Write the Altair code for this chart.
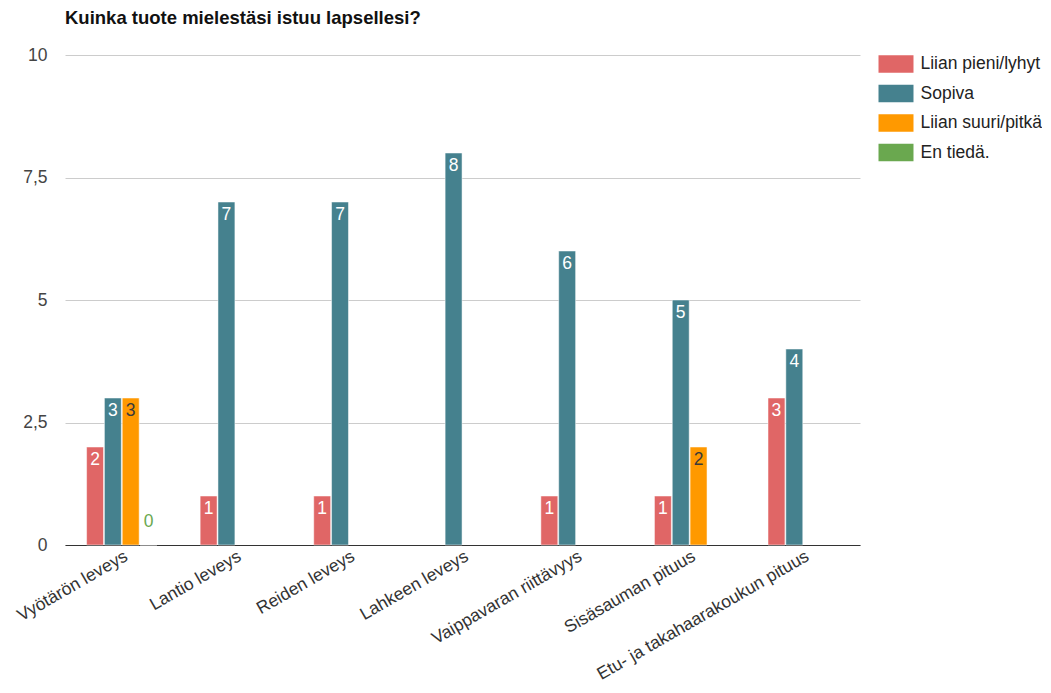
import altair as alt
import pandas as pd

categories = ["Vyötärön leveys", "Lantio leveys", "Reiden leveys", "Lahkeen leveys",
              "Vaippavaran riittävyys", "Sisäsauman pituus", "Etu- ja takahaarakoukun pituus"]
series = ["Liian pieni/lyhyt", "Sopiva", "Liian suuri/pitkä", "En tiedä."]
colors = ["#e06666", "#45818e", "#ff9900", "#6aa84f"]

# values per series (None = no bar)
pieni = [2, 1, 1, None, 1, 1, 3]
sopiva = [3, 7, 7, 8, 6, 5, 4]
suuri = [3, None, None, None, None, 2, None]
en_tieda = [0, None, None, None, None, None, None]

rows = []
for s, vals in zip(series, [pieni, sopiva, suuri, en_tieda]):
    for c, v in zip(categories, vals):
        if v is not None:
            rows.append({"category": c, "series": s, "value": v})
df = pd.DataFrame(rows)

FONT = "Liberation Sans"
FS = 17.5

x = alt.X("category:N", sort=categories, title=None,
          scale=alt.Scale(paddingInner=0.38, paddingOuter=0.19),
          axis=alt.Axis(labelAngle=-30, labelAlign="right", labelBaseline="top",
                        labelPadding=2, labelFontSize=FS, labelColor="#333",
                        labelFont=FONT, ticks=False, domainColor="#333",
                        domainWidth=1, labelLimit=400))
xo = alt.XOffset("series:N", sort=series, scale=alt.Scale(domain=series, paddingInner=0.05))
y = alt.Y("value:Q", title=None,
          scale=alt.Scale(domain=[0, 10], nice=False),
          axis=alt.Axis(values=[0, 2.5, 5, 7.5, 10], ticks=False, domain=False,
                        labelExpr="replace(toString(datum.value), '.', ',')",
                        labelFontSize=FS, labelColor="#444", labelFont=FONT,
                        labelPadding=18, gridColor="#cccccc", gridWidth=1))

base = alt.Chart(df).encode(x=x, xOffset=xo, y=y)

bars = base.mark_bar(stroke="white", strokeOpacity=0.5, strokeWidth=1).encode(
    color=alt.Color("series:N", sort=series,
                    scale=alt.Scale(domain=series, range=colors),
                    legend=alt.Legend(title=None, orient="right", offset=26.75,
                                      symbolType="M-2,-1L2,-1L2,1L-2,1Z",
                                      symbolSize=306, symbolStrokeWidth=0,
                                      labelFontSize=FS, labelColor="#222",
                                      labelFont=FONT, rowPadding=11.5,
                                      labelOffset=15.5, padding=0))
)

inside = base.transform_filter("datum.value > 0").mark_text(
    baseline="top", dy=4, fontSize=FS, font=FONT
).encode(
    text=alt.Text("value:Q"),
    color=alt.condition("datum.series == 'Liian suuri/pitkä'", alt.value("#3a3a3a"), alt.value("white"))
)

zero = base.transform_filter("datum.value == 0").mark_text(
    baseline="bottom", dy=-14, fontSize=FS, font=FONT
).encode(
    text=alt.Text("value:Q"),
    color=alt.Color("series:N", scale=alt.Scale(domain=series, range=colors), legend=None)
)

chart = alt.layer(bars, inside, zero).properties(
    width=795, height=490,
    title=alt.TitleParams("Kuinka tuote mielestäsi istuu lapsellesi?", anchor="start",
                          frame="group", fontSize=18.5, fontWeight="bold", font=FONT,
                          color="#111", offset=19),
    autosize=alt.AutoSizeParams(type="none"),
    padding={"left": 57, "top": 47, "right": 182, "bottom": 139},
).configure_view(stroke=None)

chart.save("out.html", embed_options={"renderer": "svg", "actions": False})
